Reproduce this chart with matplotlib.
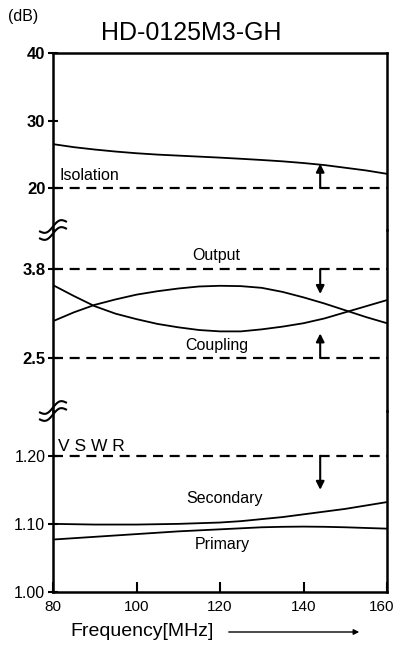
import numpy as np
import matplotlib
matplotlib.use("Agg")
import matplotlib.pyplot as plt
import matplotlib.transforms as mtransforms

plt.rcParams['font.family'] = ['Liberation Sans', 'DejaVu Sans']

# ---- data -----------------------------------------------------------------
freq = [80, 85, 90, 95, 100, 105, 110, 115, 120,
        125, 130, 135, 140, 145, 150, 155, 160]          # MHz

isolation = [26.5, 26.05, 25.7, 25.4, 25.15, 24.95, 24.8, 24.65, 24.5,
             24.33, 24.15, 23.95, 23.7, 23.4, 23.0, 22.6, 22.1]      # dB
output = [3.04, 3.17, 3.28, 3.36, 3.43, 3.48, 3.52, 3.55, 3.56,
          3.555, 3.53, 3.47, 3.39, 3.30, 3.20, 3.10, 3.01]           # dB
coupling = [3.57, 3.41, 3.26, 3.15, 3.07, 3.00, 2.95, 2.91, 2.89,
            2.89, 2.92, 2.96, 3.01, 3.08, 3.17, 3.26, 3.35]          # dB
secondary = [1.100, 1.0995, 1.099, 1.099, 1.099, 1.0995, 1.100, 1.101, 1.102,
             1.104, 1.107, 1.110, 1.114, 1.118, 1.122, 1.127, 1.132]
primary = [1.077, 1.079, 1.081, 1.083, 1.085, 1.087, 1.089, 1.0905, 1.092,
           1.0935, 1.095, 1.0957, 1.096, 1.0957, 1.095, 1.094, 1.093]

# spec limits (dashed) and where the arrows point
iso_limit, iso_arrow = 20, 23.6
out_limit, out_arrow = 3.8, 3.44
cpl_limit, cpl_arrow = 2.5, 2.86
vswr_limit, vswr_arrow = 1.20, 1.15
arrow_freq = 144

x_ticks = [80, 100, 120, 140, 160]

# ---- layout: three stacked panels sharing one frame ------------------------
W_PX, H_PX = 398, 648
fig = plt.figure(figsize=(W_PX / 100, H_PX / 100), dpi=100)

left, right = 53, 387
top, brk1, brk2, bottom = 53, 230, 411, 592


def panel(y_top, y_bot):
    return fig.add_axes([left / W_PX, 1 - y_bot / H_PX,
                         (right - left) / W_PX, (y_bot - y_top) / H_PX])


ax_top = panel(top, brk1)
ax_mid = panel(brk1, brk2)
ax_bot = panel(brk2, bottom)

ax_top.set_ylim(13.78, 40)
ax_mid.set_ylim(1.72, 4.38)
ax_bot.set_ylim(1.0, 1.2657)

for ax in (ax_top, ax_mid, ax_bot):
    ax.set_xlim(80, 160)
    ax.patch.set_alpha(0)
    for s in ax.spines.values():
        s.set_linewidth(1.8)
    ax.tick_params(axis='y', direction='inout', length=7, width=1.5,
                   labelsize=12, pad=2)

ax_top.spines['bottom'].set_visible(False)
ax_mid.spines['top'].set_visible(False)
ax_mid.spines['bottom'].set_visible(False)
ax_bot.spines['top'].set_visible(False)
ax_top.set_xticks([])
ax_mid.set_xticks([])

ax_top.set_yticks([20, 30, 40])
ax_top.set_yticklabels(['20', '30', '40'], fontweight='bold')
ax_mid.set_yticks([2.5, 3.8])
ax_mid.set_yticklabels(['2.5', '3.8'], fontweight='bold')
ax_bot.set_yticks([1.0, 1.1, 1.2])
ax_bot.set_yticklabels(['1.00', '1.10', '1.20'])
ax_bot.tick_params(axis='y', labelsize=11.5)

ax_bot.set_xticks(x_ticks)
ax_bot.set_xticklabels([str(t) for t in x_ticks])
ax_bot.tick_params(axis='x', direction='in', length=7, width=1.5,
                   labelsize=11, pad=6)
# the last label sits right at the image edge; nudge it inwards a little
last = ax_bot.get_xticklabels()[-1]
last.set_transform(last.get_transform() +
                   mtransforms.ScaledTranslation(-5 / 100, 0, fig.dpi_scale_trans))

# ---- curves ----------------------------------------------------------------
curve_kw = dict(color='black', lw=1.3)
dash_kw = dict(color='black', lw=1.6, dashes=(4.5, 3))
arrow_kw = dict(arrowstyle='-|>', color='black', lw=1.5, mutation_scale=12,
                shrinkA=0, shrinkB=0)
label_kw = dict(fontsize=11.5)

ax_top.plot(freq, isolation, **curve_kw)
ax_top.axhline(iso_limit, **dash_kw)
ax_top.annotate('', xy=(arrow_freq, iso_arrow), xytext=(arrow_freq, iso_limit),
                arrowprops=arrow_kw)
ax_top.text(81.5, 21.9, 'Isolation', va='center', **label_kw)

ax_mid.plot(freq, output, **curve_kw)
ax_mid.plot(freq, coupling, **curve_kw)
ax_mid.axhline(out_limit, **dash_kw)
ax_mid.axhline(cpl_limit, **dash_kw)
ax_mid.annotate('', xy=(arrow_freq, out_arrow), xytext=(arrow_freq, out_limit),
                arrowprops=arrow_kw)
ax_mid.annotate('', xy=(arrow_freq, cpl_arrow), xytext=(arrow_freq, cpl_limit),
                arrowprops=arrow_kw)
ax_mid.text(119, 4.0, 'Output', ha='center', va='center', **label_kw)
ax_mid.text(119.3, 2.68, 'Coupling', ha='center', va='center', **label_kw)

ax_bot.plot(freq, secondary, **curve_kw)
ax_bot.plot(freq, primary, **curve_kw)
ax_bot.axhline(vswr_limit, **dash_kw)
ax_bot.annotate('', xy=(arrow_freq, vswr_arrow), xytext=(arrow_freq, vswr_limit),
                arrowprops=arrow_kw)
ax_bot.text(81.2, 1.202, 'V S W R', va='bottom', fontsize=12.5)
ax_bot.text(121, 1.137, 'Secondary', ha='center', va='center', **label_kw)
ax_bot.text(120.5, 1.069, 'Primary', ha='center', va='center', **label_kw)

# ---- axis break marks on the left spine ------------------------------------
t = np.linspace(-1, 1, 40)
for y_px in (brk1, brk2):
    for off in (-3.5, 3.5):
        xs = left + 13 * t
        ys = y_px + off - 5 * t - 3.5 * np.sin(np.pi * t)
        fig.add_artist(plt.Line2D(xs / W_PX, 1 - ys / H_PX, color='black',
                                  lw=1.5, transform=fig.transFigure))

# ---- titles ----------------------------------------------------------------
fig.text(8 / W_PX, 1 - 16 / H_PX, '(dB)', fontsize=11.5, va='center')
fig.text(191 / W_PX, 1 - 33 / H_PX, 'HD-0125M3-GH', fontsize=18,
         ha='center', va='center')
fig.text(70 / W_PX, 1 - 632 / H_PX, 'Frequency[MHz]', fontsize=14,
         va='center')
fig.add_artist(matplotlib.patches.FancyArrowPatch(
    (226 / W_PX, 1 - 632 / H_PX), (362 / W_PX, 1 - 632 / H_PX),
    transform=fig.transFigure, arrowstyle='-|>', mutation_scale=8,
    color='black', lw=1.0))

fig.savefig('out.png', dpi=100)
